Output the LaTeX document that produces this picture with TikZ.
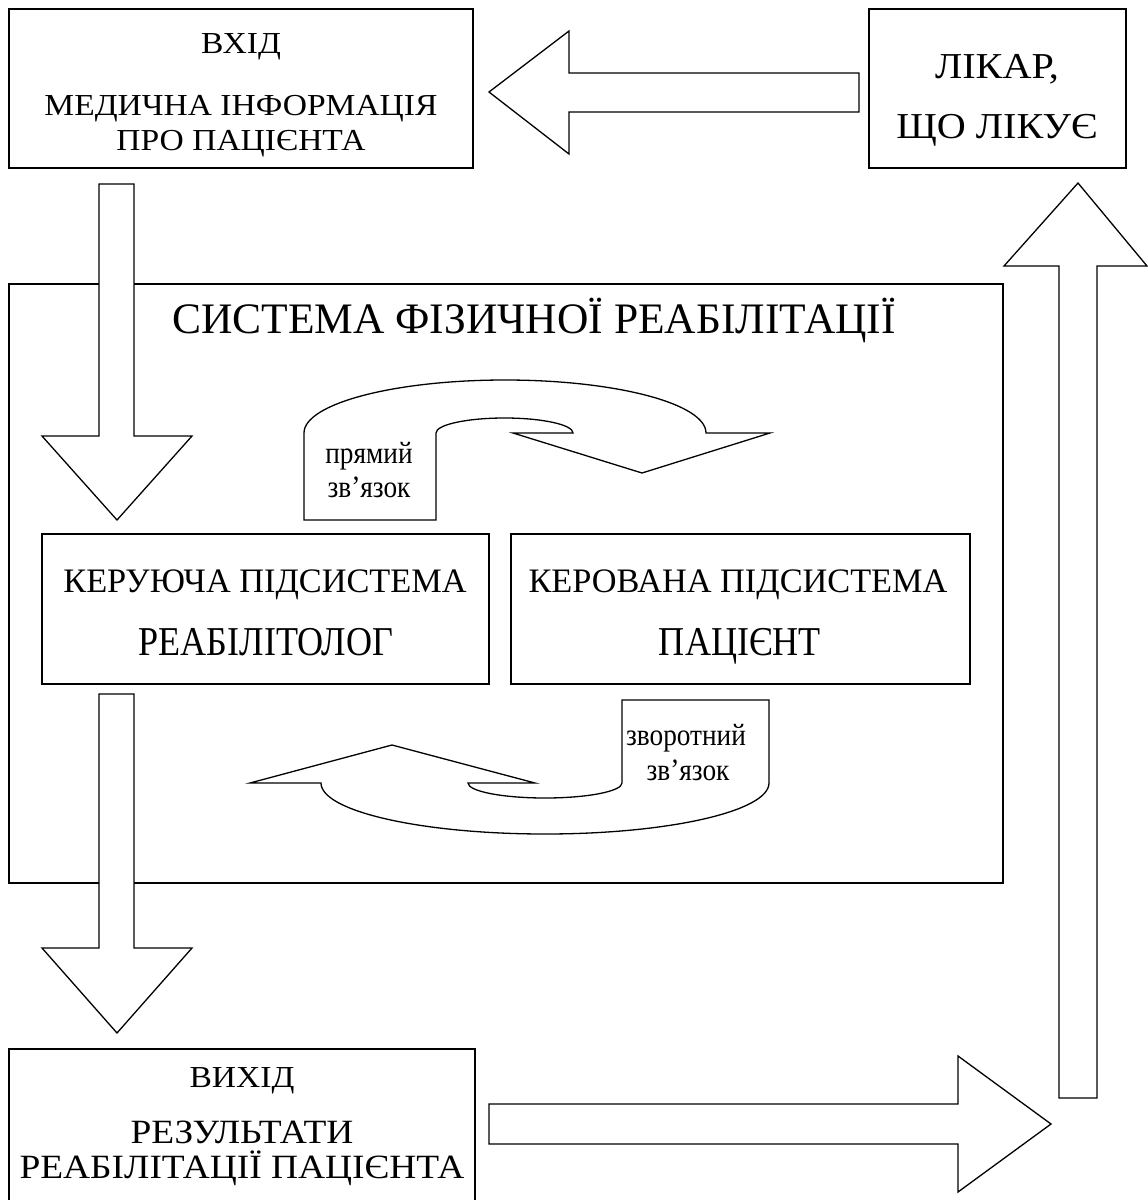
\documentclass[tikz,border=0pt]{standalone}
\usepackage{fontspec}
\setmainfont{Liberation Serif}
\newfontfamily\widef{Liberation Serif}[FakeStretch=1.1]
\newfontfamily\narrf{Liberation Serif}[FakeStretch=0.88]
\newcommand\fsz[1]{\fontsize{#1}{#1}\selectfont}
\begin{document}
\begin{tikzpicture}[x=1pt,y=-1pt,
  box/.style={draw, line width=1.3pt, inner sep=0pt, outer sep=0pt, anchor=north west},
  blk/.style={draw, line width=1.3pt, fill=white, line join=miter},
  txt/.style={inner sep=0pt, anchor=base, align=center},
  boxtxt/.style={font=\widef\fsz{30.5}},
  boxtxtb/.style={font=\widef\fsz{34}},
  doctxt/.style={font=\widef\fsz{36.5}},
  systxt/.style={font=\fsz{43.5}},
  subtxt/.style={font=\fsz{34.3}},
  roletxt/.style={font=\narrf\fsz{41}},
  smalltxt/.style={font=\narrf\fsz{31}}]
\useasboundingbox (0,0) rectangle (1148,1200);
\fill[white] (0,0) rectangle (1148,1200);

% main system box
\node[box, minimum width=994pt, minimum height=599pt] (sys) at (9,284) {};

% top boxes
\node[box, minimum width=464pt, minimum height=159pt] (inbox) at (9,9) {};
\node[box, minimum width=257pt, minimum height=159pt] (doc) at (869,9) {};

% sub boxes
\node[box, minimum width=447pt, minimum height=150pt] (ctrl) at (42,534) {};
\node[box, minimum width=459pt, minimum height=150pt] (pat) at (511,534) {};

% output box (open at bottom)
\node[inner sep=0pt, outer sep=0pt, anchor=north west, minimum width=466pt, minimum height=151pt] (outbox) at (9,1049) {};
\draw[line width=1.3pt] (outbox.south west) -- (outbox.north west) -- (outbox.north east) -- (outbox.south east);

% block arrows
\draw[blk] (99,184) -- (134,184) -- (134,436) -- (192,436) -- (117,520) -- (42,436) -- (99,436) -- cycle;
\draw[blk] (99,694) -- (134,694) -- (134,948) -- (192,948) -- (117,1033) -- (42,948) -- (99,948) -- cycle;
\draw[blk] (859,73) -- (859,112) -- (569,112) -- (569,154) -- (489,92) -- (569,31) -- (569,73) -- cycle;
\draw[blk] (489,1104) -- (958,1104) -- (958,1056) -- (1051,1124) -- (958,1192) -- (958,1144) -- (489,1144) -- cycle;
\draw[blk] (1059,1098) -- (1059,266) -- (1004,266) -- (1078,183) -- (1147,266) -- (1097,266) -- (1097,1098) -- cycle;

% curved arrows
\draw[blk] (304,520) -- (304,433) arc[start angle=180, end angle=360, x radius=201, y radius=53]
  -- (770,433) -- (642,473) -- (513,433) -- (573,433)
  arc[start angle=0, end angle=-180, x radius=68.5, y radius=15] -- (436,520) -- cycle;
\draw[blk] (622,700) -- (769,700) -- (769,783)
  arc[start angle=0, end angle=180, x radius=224, y radius=51]
  -- (250,783) -- (392,745) -- (535,783) -- (468,783)
  arc[start angle=180, end angle=0, x radius=77, y radius=15] -- cycle;

% texts
\node[txt, boxtxt] (t1) at (241,53) {ВХІД};
\node[txt, boxtxt] (t2) at (241,115) {МЕДИЧНА ІНФОРМАЦІЯ};
\node[txt, boxtxt] (t3) at (241,150) {ПРО ПАЦІЄНТА};
\node[txt, doctxt] (t4) at (997,78) {ЛІКАР,};
\node[txt, doctxt] (t5) at (997,138) {ЩО ЛІКУЄ};
\node[txt, systxt] (t6) at (534,333) {СИСТЕМА ФІЗИЧНОЇ РЕАБІЛІТАЦІЇ};
\node[txt, smalltxt] (t7) at (369,463) {прямий};
\node[txt, smalltxt] (t8) at (369,497) {зв’язок};
\node[txt, subtxt] (t9) at (265,592) {КЕРУЮЧА ПІДСИСТЕМА};
\node[txt, roletxt] (t10) at (266,655) {РЕАБІЛІТОЛОГ};
\node[txt, subtxt] (t11) at (738,592) {КЕРОВАНА ПІДСИСТЕМА};
\node[txt, roletxt] (t12) at (740,655) {ПАЦІЄНТ};
\node[txt, smalltxt] (t13) at (686,745) {зворотний};
\node[txt, smalltxt] (t14) at (688,780) {зв’язок};
\node[txt, boxtxt] (t15) at (242,1087) {ВИХІД};
\node[txt, boxtxtb] (t16) at (242,1143) {РЕЗУЛЬТАТИ};
\node[txt, boxtxtb] (t17) at (242,1178) {РЕАБІЛІТАЦІЇ ПАЦІЄНТА};
\end{tikzpicture}
\end{document}
